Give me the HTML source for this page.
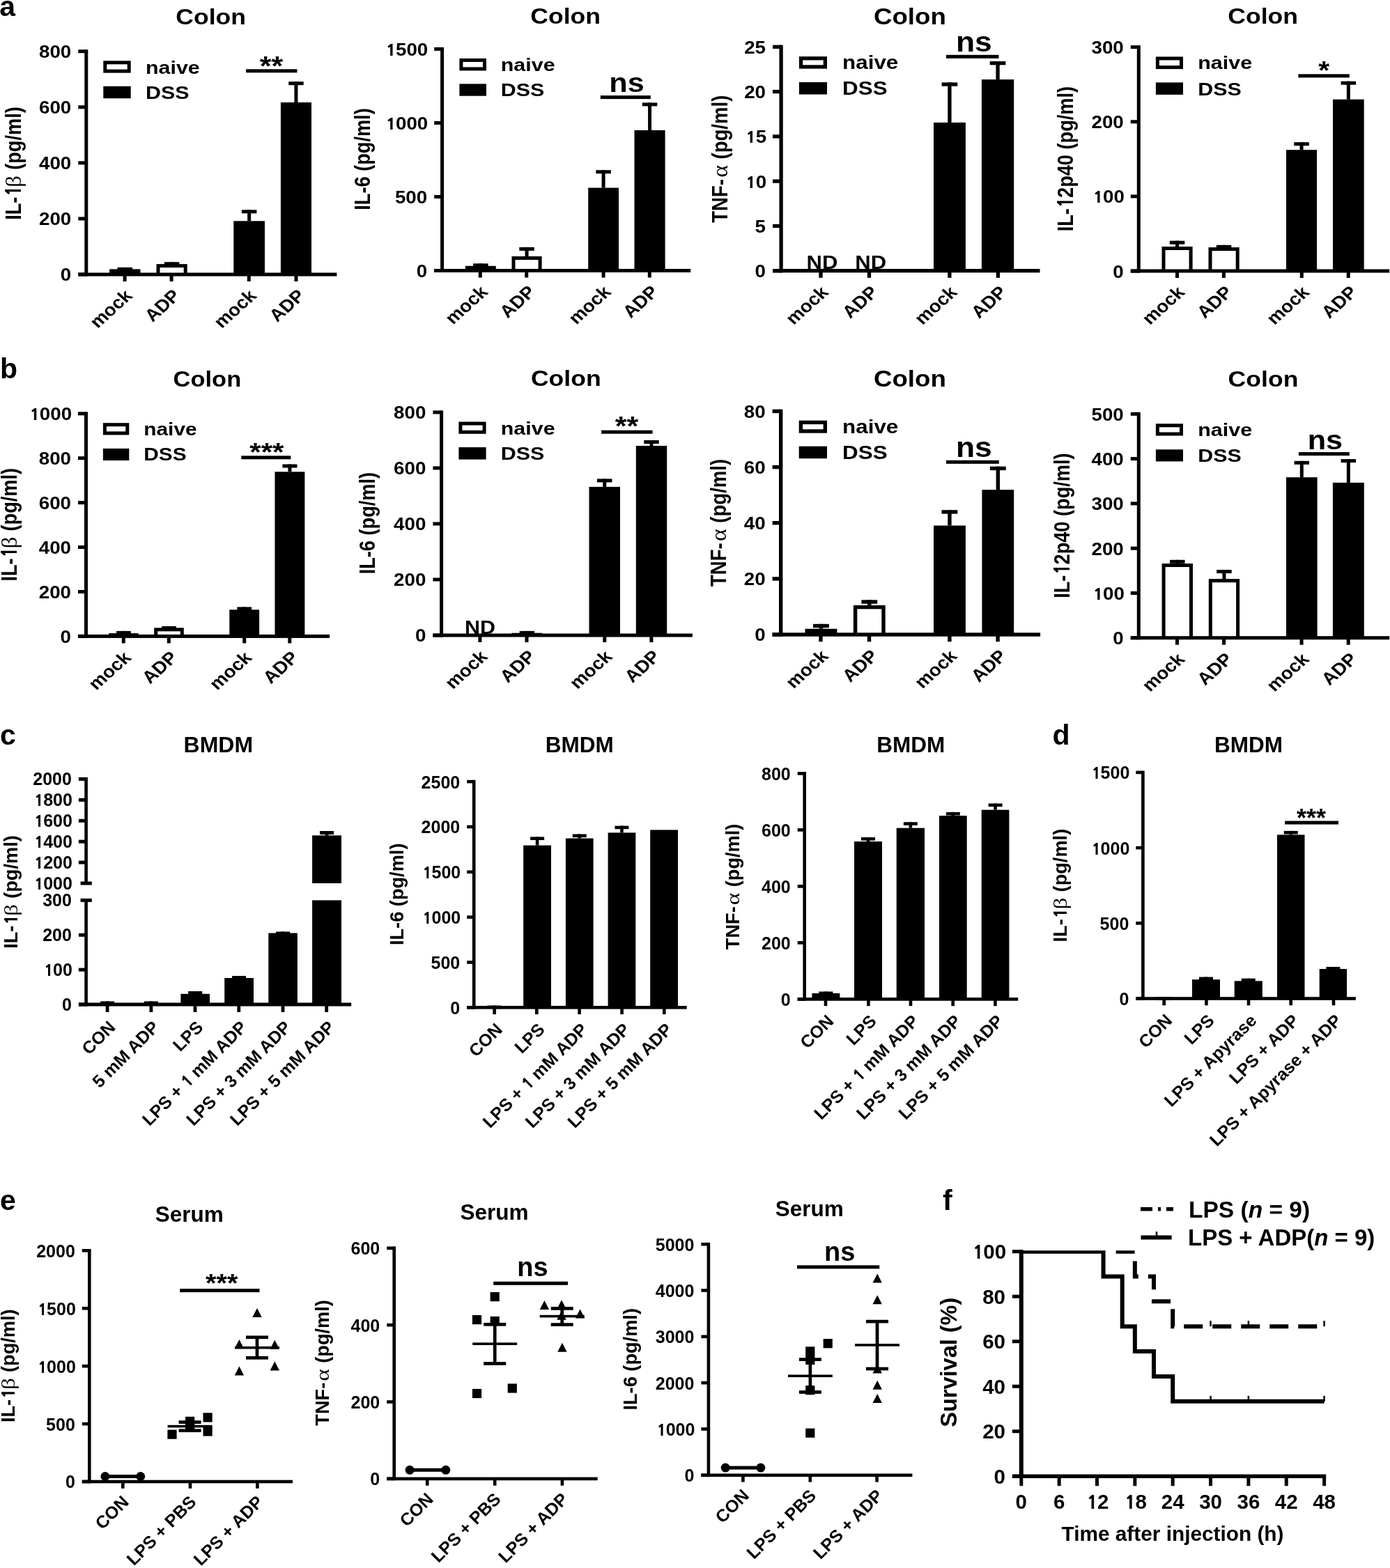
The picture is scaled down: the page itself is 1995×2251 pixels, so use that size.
<!DOCTYPE html>
<html lang="en">
<head>
<meta charset="utf-8">
<title>ADP exacerbates inflammatory cytokine production - figure</title>
<style>
html,body{margin:0;padding:0;background:#fff;}
body{width:1995px;height:2251px;overflow:hidden;}
svg{display:block;}
svg text{font-family:"Liberation Sans",Arial,Helvetica,sans-serif;font-weight:bold;fill:#000;}
svg .o{font-family:"NanumGothic","Liberation Sans",sans-serif;font-weight:800;font-size:90%;letter-spacing:-.032em;}
</style>
</head>
<body>
<svg xmlns="http://www.w3.org/2000/svg" width="1995" height="2251" viewBox="0 0 1995 2251">
<rect x="0" y="0" width="1995" height="2251" fill="#fff"/>
<!-- panel letters -->
<text transform="translate(-0.7 23)" font-size="41">a</text>
<text transform="translate(0 542.8)" font-size="41">b</text>
<text transform="translate(0 1069.3)" font-size="41">c</text>
<text transform="translate(1510.5 1068.8)" font-size="41">d</text>
<text transform="translate(0 1737.3)" font-size="41">e</text>
<text transform="translate(1353 1736.9)" font-size="41">f</text>
<!-- a1 IL-1b colon -->
<g>
<text transform="translate(302.6 34.5) scale(1.13 1)" font-size="31.5" text-anchor="middle">Colon</text>
<text transform="translate(29.8 315.87) scale(1.16 1) rotate(-90)" font-size="27.2">IL-<tspan class="o" dx="0.044em">1</tspan></text>
<text transform="translate(29.8 153.19) scale(1.16 1) rotate(-90)" font-size="27.2" text-anchor="end">(pg/ml)</text>
<text transform="translate(29.8 268.88) scale(1.09 1.19) rotate(-90)" font-size="28" font-weight="normal" style="font-family:'Liberation Serif','DejaVu Serif',serif;font-weight:normal">β</text>
<rect x="121.3" y="71.2" width="5" height="325.3"/>
<rect x="112.3" y="391.5" width="371.1" height="5"/>
<rect x="112.3" y="71.2" width="11.5" height="5"/>
<text transform="translate(102.3 83.12) scale(1.11 1)" font-size="25" text-anchor="end">800</text>
<rect x="112.3" y="151.28" width="11.5" height="5"/>
<text transform="translate(102.3 163.2) scale(1.11 1)" font-size="25" text-anchor="end">600</text>
<rect x="112.3" y="231.35" width="11.5" height="5"/>
<text transform="translate(102.3 243.28) scale(1.11 1)" font-size="25" text-anchor="end">400</text>
<rect x="112.3" y="311.43" width="11.5" height="5"/>
<text transform="translate(102.3 323.35) scale(1.11 1)" font-size="25" text-anchor="end">200</text>
<rect x="112.3" y="391.5" width="11.5" height="5"/>
<text transform="translate(102.3 403.43) scale(1.11 1)" font-size="25" text-anchor="end">0</text>
<rect x="176.6" y="394" width="5" height="10"/>
<rect x="243.6" y="394" width="5" height="10"/>
<rect x="354.8" y="394" width="5" height="10"/>
<rect x="422.5" y="394" width="5" height="10"/>
<rect x="168.55" y="383.9" width="21.5" height="5"/>
<rect x="176.8" y="383.9" width="5" height="5"/>
<rect x="157.1" y="386.4" width="44.4" height="7.6"/>
<rect x="235.85" y="376.2" width="21.5" height="5"/>
<rect x="244.1" y="376.2" width="5" height="5"/>
<rect x="224.5" y="379.1" width="44.2" height="14.9"/>
<rect x="229.5" y="384.1" width="34.2" height="7.4" fill="#fff"/>
<rect x="346.9" y="301.3" width="21.5" height="5"/>
<rect x="355.15" y="301.3" width="5" height="16"/>
<rect x="335.3" y="317.3" width="44.7" height="76.7"/>
<rect x="414.2" y="117.2" width="21.5" height="5"/>
<rect x="422.45" y="117.2" width="5" height="29.8"/>
<rect x="402.9" y="147" width="44.1" height="247"/>
<rect x="148.3" y="87.3" width="39.4" height="17.3"/>
<rect x="153.3" y="92.3" width="29.4" height="7.3" fill="#fff"/>
<rect x="148.3" y="123.8" width="39.4" height="17.4"/>
<text transform="translate(209 105.5) scale(1.17 1)" font-size="26">naive</text>
<text transform="translate(209 141.9) scale(1.17 1)" font-size="26">DSS</text>
<rect x="353.1" y="99.3" width="73.3" height="5"/>
<text transform="translate(389.4 108) scale(1.13 1)" font-size="38" text-anchor="middle">**</text>
<text transform="translate(191.4 426.2) scale(1.11 1) rotate(-45)" font-size="25" text-anchor="end">mock</text>
<text transform="translate(260.4 426) scale(1.11 1) rotate(-45)" font-size="25" text-anchor="end">ADP</text>
<text transform="translate(369.6 426.2) scale(1.11 1) rotate(-45)" font-size="25" text-anchor="end">mock</text>
<text transform="translate(439.3 426) scale(1.11 1) rotate(-45)" font-size="25" text-anchor="end">ADP</text>
</g>
<!-- a2 IL-6 colon -->
<g>
<text transform="translate(811.6 33.8) scale(1.13 1)" font-size="31.5" text-anchor="middle">Colon</text>
<text transform="translate(530.6 228.5) scale(1.16 1) rotate(-90)" font-size="27.2" text-anchor="middle">IL-6 (pg/ml)</text>
<rect x="632.1" y="67.9" width="5" height="323.1"/>
<rect x="623.2" y="386" width="368" height="5"/>
<rect x="623.2" y="67.9" width="11.4" height="5"/>
<text transform="translate(613.2 79.83) scale(1.11 1)" font-size="25" text-anchor="end"><tspan class="o" dx="0.044em">1</tspan>500</text>
<rect x="623.2" y="173.93" width="11.4" height="5"/>
<text transform="translate(613.2 185.86) scale(1.11 1)" font-size="25" text-anchor="end"><tspan class="o" dx="0.044em">1</tspan>000</text>
<rect x="623.2" y="279.97" width="11.4" height="5"/>
<text transform="translate(613.2 291.89) scale(1.11 1)" font-size="25" text-anchor="end">500</text>
<rect x="623.2" y="386" width="11.4" height="5"/>
<text transform="translate(613.2 397.93) scale(1.11 1)" font-size="25" text-anchor="end">0</text>
<rect x="686.8" y="388.5" width="5" height="10"/>
<rect x="753.2" y="388.5" width="5" height="10"/>
<rect x="863.6" y="388.5" width="5" height="10"/>
<rect x="929.8" y="388.5" width="5" height="10"/>
<rect x="679.1" y="378.3" width="21.5" height="5"/>
<rect x="687.35" y="378.3" width="5" height="5"/>
<rect x="667.9" y="381.8" width="43.9" height="6.7"/>
<rect x="745.3" y="354.9" width="21.5" height="5"/>
<rect x="753.55" y="354.9" width="5" height="13.1"/>
<rect x="734.5" y="368" width="43.1" height="20.5"/>
<rect x="739.5" y="373" width="33.1" height="13" fill="#fff"/>
<rect x="855.35" y="244.2" width="21.5" height="5"/>
<rect x="863.6" y="244.2" width="5" height="25.4"/>
<rect x="844.2" y="269.6" width="43.8" height="118.9"/>
<rect x="921.8" y="147.4" width="21.5" height="5"/>
<rect x="930.05" y="147.4" width="5" height="39.6"/>
<rect x="910.5" y="187" width="44.1" height="201.5"/>
<rect x="659.4" y="83.9" width="38.6" height="17.5"/>
<rect x="664.4" y="88.9" width="28.6" height="7.5" fill="#fff"/>
<rect x="659.4" y="120.4" width="38.6" height="17.3"/>
<text transform="translate(718.8 101.8) scale(1.17 1)" font-size="26">naive</text>
<text transform="translate(718.8 138) scale(1.17 1)" font-size="26">DSS</text>
<rect x="861.8" y="137.1" width="72" height="5"/>
<text transform="translate(899.5 132.3) scale(1.11 1)" font-size="39" text-anchor="middle">ns</text>
<text transform="translate(701.6 420.7) scale(1.11 1) rotate(-45)" font-size="25" text-anchor="end">mock</text>
<text transform="translate(770 420.5) scale(1.11 1) rotate(-45)" font-size="25" text-anchor="end">ADP</text>
<text transform="translate(878.4 420.7) scale(1.11 1) rotate(-45)" font-size="25" text-anchor="end">mock</text>
<text transform="translate(946.6 420.5) scale(1.11 1) rotate(-45)" font-size="25" text-anchor="end">ADP</text>
</g>
<!-- a3 TNF-a colon -->
<g>
<text transform="translate(1305.9 34.5) scale(1.13 1)" font-size="32.5" text-anchor="middle">Colon</text>
<text transform="translate(1043.9 319.85) scale(1.16 1) rotate(-90)" font-size="27.6">TNF-</text>
<text transform="translate(1043.9 136.62) scale(1.16 1) rotate(-90)" font-size="27.6" text-anchor="end">(pg/ml)</text>
<text transform="translate(1043.9 254.86) scale(1.09 1.19) rotate(-90)" font-size="28.41" font-weight="normal" style="font-family:'Liberation Serif','DejaVu Serif',serif;font-weight:normal">α</text>
<rect x="1118.45" y="64.65" width="5.3" height="326.7"/>
<rect x="1109" y="386.05" width="383.5" height="5.3"/>
<rect x="1109" y="64.65" width="12.1" height="5.3"/>
<text transform="translate(1099 76.72) scale(1.11 1)" font-size="25" text-anchor="end">25</text>
<rect x="1109" y="128.93" width="12.1" height="5.3"/>
<text transform="translate(1099 141) scale(1.11 1)" font-size="25" text-anchor="end">20</text>
<rect x="1109" y="193.21" width="12.1" height="5.3"/>
<text transform="translate(1099 205.28) scale(1.11 1)" font-size="25" text-anchor="end"><tspan class="o" dx="0.044em">1</tspan>5</text>
<rect x="1109" y="257.49" width="12.1" height="5.3"/>
<text transform="translate(1099 269.56) scale(1.11 1)" font-size="25" text-anchor="end"><tspan class="o" dx="0.044em">1</tspan>0</text>
<rect x="1109" y="321.77" width="12.1" height="5.3"/>
<text transform="translate(1099 333.85) scale(1.11 1)" font-size="25" text-anchor="end">5</text>
<rect x="1109" y="386.05" width="12.1" height="5.3"/>
<text transform="translate(1099 398.12) scale(1.11 1)" font-size="25" text-anchor="end">0</text>
<rect x="1175.35" y="388.7" width="5.3" height="10.15"/>
<rect x="1244.85" y="388.7" width="5.3" height="10.15"/>
<rect x="1360.25" y="388.7" width="5.3" height="10.15"/>
<rect x="1429.75" y="388.7" width="5.3" height="10.15"/>
<rect x="1351.65" y="118.4" width="22.6" height="5.3"/>
<rect x="1360.3" y="118.4" width="5.3" height="57.5"/>
<rect x="1340" y="175.9" width="45.9" height="212.8"/>
<rect x="1420.75" y="88" width="22.6" height="5.3"/>
<rect x="1429.4" y="88" width="5.3" height="26.1"/>
<rect x="1408.9" y="114.1" width="46.3" height="274.6"/>
<rect x="1146.9" y="81.1" width="40.1" height="17.5"/>
<rect x="1152.2" y="86.4" width="29.5" height="6.9" fill="#fff"/>
<rect x="1146.9" y="118" width="40.1" height="17.5"/>
<text transform="translate(1209.1 99.1) scale(1.17 1)" font-size="26.8">naive</text>
<text transform="translate(1209.1 135.9) scale(1.17 1)" font-size="26.8">DSS</text>
<rect x="1358" y="78.8" width="75.5" height="5"/>
<text transform="translate(1397.8 73.6) scale(1.11 1)" font-size="40" text-anchor="middle">ns</text>
<text transform="translate(1190.3 421.05) scale(1.11 1) rotate(-45)" font-size="25" text-anchor="end">mock</text>
<text transform="translate(1261.8 420.85) scale(1.11 1) rotate(-45)" font-size="25" text-anchor="end">ADP</text>
<text transform="translate(1375.2 421.05) scale(1.11 1) rotate(-45)" font-size="25" text-anchor="end">mock</text>
<text transform="translate(1446.7 420.85) scale(1.11 1) rotate(-45)" font-size="25" text-anchor="end">ADP</text>
<text transform="translate(1180 385.9) scale(1.15 1)" font-size="27" text-anchor="middle">ND</text>
<text transform="translate(1249.7 385.9) scale(1.15 1)" font-size="27" text-anchor="middle">ND</text>
</g>
<!-- a4 IL-12p40 colon -->
<g>
<text transform="translate(1812.6 34.1) scale(1.13 1)" font-size="31.5" text-anchor="middle">Colon</text>
<text transform="translate(1540 228.1) scale(1.16 1) rotate(-90)" font-size="27.2" text-anchor="middle">IL-<tspan class="o" dx="0.044em">1</tspan>2p40 (pg/ml)</text>
<rect x="1631.8" y="65.1" width="5" height="326.4"/>
<rect x="1622.8" y="386.5" width="371.4" height="5"/>
<rect x="1622.8" y="65.1" width="11.5" height="5"/>
<text transform="translate(1612.8 77.02) scale(1.11 1)" font-size="25" text-anchor="end">300</text>
<rect x="1622.8" y="172.27" width="11.5" height="5"/>
<text transform="translate(1612.8 184.19) scale(1.11 1)" font-size="25" text-anchor="end">200</text>
<rect x="1622.8" y="279.43" width="11.5" height="5"/>
<text transform="translate(1612.8 291.36) scale(1.11 1)" font-size="25" text-anchor="end"><tspan class="o" dx="0.044em">1</tspan>00</text>
<rect x="1622.8" y="386.6" width="11.5" height="5"/>
<text transform="translate(1612.8 398.53) scale(1.11 1)" font-size="25" text-anchor="end">0</text>
<rect x="1687" y="389" width="5" height="10"/>
<rect x="1753.9" y="389" width="5" height="10"/>
<rect x="1865.8" y="389" width="5" height="10"/>
<rect x="1932.7" y="389" width="5" height="10"/>
<rect x="1678.8" y="345.7" width="21.5" height="5"/>
<rect x="1687.05" y="345.7" width="5" height="8.3"/>
<rect x="1667.5" y="354" width="44.1" height="35"/>
<rect x="1672.5" y="359" width="34.1" height="27.5" fill="#fff"/>
<rect x="1745.85" y="351.8" width="21.5" height="5"/>
<rect x="1754.1" y="351.8" width="5" height="5"/>
<rect x="1734.5" y="355.1" width="44.2" height="33.9"/>
<rect x="1739.5" y="360.1" width="34.2" height="26.4" fill="#fff"/>
<rect x="1857.3" y="204.2" width="21.5" height="5"/>
<rect x="1865.55" y="204.2" width="5" height="11"/>
<rect x="1846" y="215.2" width="44.1" height="173.8"/>
<rect x="1924.6" y="116.7" width="21.5" height="5"/>
<rect x="1932.85" y="116.7" width="5" height="26"/>
<rect x="1913" y="142.7" width="44.7" height="246.3"/>
<rect x="1658.9" y="81.4" width="39.1" height="17.7"/>
<rect x="1663.9" y="86.4" width="29.1" height="7.7" fill="#fff"/>
<rect x="1658.9" y="118.4" width="39.1" height="17.5"/>
<text transform="translate(1719.3 99.3) scale(1.17 1)" font-size="26">naive</text>
<text transform="translate(1719.3 136.6) scale(1.17 1)" font-size="26">DSS</text>
<rect x="1863.4" y="106.4" width="73.4" height="5"/>
<text transform="translate(1900.1 114.1) scale(1.1 1)" font-size="37" text-anchor="middle">*</text>
<text transform="translate(1701.8 421.2) scale(1.11 1) rotate(-45)" font-size="25" text-anchor="end">mock</text>
<text transform="translate(1770.7 421) scale(1.11 1) rotate(-45)" font-size="25" text-anchor="end">ADP</text>
<text transform="translate(1880.6 421.2) scale(1.11 1) rotate(-45)" font-size="25" text-anchor="end">mock</text>
<text transform="translate(1949.5 421) scale(1.11 1) rotate(-45)" font-size="25" text-anchor="end">ADP</text>
</g>
<!-- b1 IL-1b colon -->
<g>
<text transform="translate(297.4 554.5) scale(1.13 1)" font-size="30.5" text-anchor="middle">Colon</text>
<text transform="translate(24.1 834.57) scale(1.16 1) rotate(-90)" font-size="27.2">IL-<tspan class="o" dx="0.044em">1</tspan></text>
<text transform="translate(24.1 671.89) scale(1.16 1) rotate(-90)" font-size="27.2" text-anchor="end">(pg/ml)</text>
<text transform="translate(24.1 787.58) scale(1.09 1.19) rotate(-90)" font-size="28" font-weight="normal" style="font-family:'Liberation Serif','DejaVu Serif',serif;font-weight:normal">β</text>
<rect x="121" y="591.3" width="5" height="324.6"/>
<rect x="112" y="910.9" width="361.1" height="5"/>
<rect x="112" y="591.3" width="11.5" height="5"/>
<text transform="translate(102 603.23) scale(1.11 1)" font-size="25" text-anchor="end"><tspan class="o" dx="0.044em">1</tspan>000</text>
<rect x="112" y="655.22" width="11.5" height="5"/>
<text transform="translate(102 667.14) scale(1.11 1)" font-size="25" text-anchor="end">800</text>
<rect x="112" y="719.14" width="11.5" height="5"/>
<text transform="translate(102 731.07) scale(1.11 1)" font-size="25" text-anchor="end">600</text>
<rect x="112" y="783.06" width="11.5" height="5"/>
<text transform="translate(102 794.99) scale(1.11 1)" font-size="25" text-anchor="end">400</text>
<rect x="112" y="846.98" width="11.5" height="5"/>
<text transform="translate(102 858.91) scale(1.11 1)" font-size="25" text-anchor="end">200</text>
<rect x="112" y="910.9" width="11.5" height="5"/>
<text transform="translate(102 922.83) scale(1.11 1)" font-size="25" text-anchor="end">0</text>
<rect x="174.8" y="913.4" width="5" height="10"/>
<rect x="239.8" y="913.4" width="5" height="10"/>
<rect x="348.2" y="913.4" width="5" height="10"/>
<rect x="413.3" y="913.4" width="5" height="10"/>
<rect x="167.1" y="905.9" width="20.7" height="5"/>
<rect x="174.95" y="905.9" width="5" height="5"/>
<rect x="156.2" y="909.1" width="42.5" height="4.3"/>
<rect x="232.15" y="899" width="20.7" height="5"/>
<rect x="240" y="899" width="5" height="5"/>
<rect x="221.2" y="901.3" width="42.6" height="12.1"/>
<rect x="226.2" y="906.3" width="32.6" height="4.6" fill="#fff"/>
<rect x="340.35" y="871.4" width="20.7" height="5"/>
<rect x="348.2" y="871.4" width="5" height="5"/>
<rect x="329.3" y="875.3" width="42.8" height="38.1"/>
<rect x="405.45" y="666.5" width="21" height="5"/>
<rect x="413.45" y="666.5" width="5" height="10.8"/>
<rect x="394.5" y="677.3" width="42.9" height="236.1"/>
<rect x="147.9" y="607.2" width="37.4" height="17.2"/>
<rect x="152.9" y="612.2" width="27.4" height="7.2" fill="#fff"/>
<rect x="147.9" y="643.9" width="37.4" height="17.1"/>
<text transform="translate(206.3 624.9) scale(1.17 1)" font-size="25.5">naive</text>
<text transform="translate(206.3 661.4) scale(1.17 1)" font-size="25.5">DSS</text>
<rect x="346.3" y="654.3" width="71.1" height="5"/>
<text transform="translate(382.8 662.1) scale(1.135 1)" font-size="37" text-anchor="middle">***</text>
<text transform="translate(189.6 945.6) scale(1.11 1) rotate(-45)" font-size="25" text-anchor="end">mock</text>
<text transform="translate(256.6 945.4) scale(1.11 1) rotate(-45)" font-size="25" text-anchor="end">ADP</text>
<text transform="translate(363 945.6) scale(1.11 1) rotate(-45)" font-size="25" text-anchor="end">mock</text>
<text transform="translate(430.1 945.4) scale(1.11 1) rotate(-45)" font-size="25" text-anchor="end">ADP</text>
</g>
<!-- b2 IL-6 colon -->
<g>
<text transform="translate(812.3 554.1) scale(1.13 1)" font-size="31.5" text-anchor="middle">Colon</text>
<text transform="translate(537.5 751.1) scale(1.16 1) rotate(-90)" font-size="27.2" text-anchor="middle">IL-6 (pg/ml)</text>
<rect x="631.1" y="589.4" width="5" height="325.1"/>
<rect x="621.4" y="909.5" width="372.5" height="5"/>
<rect x="621.4" y="589.4" width="12.2" height="5"/>
<text transform="translate(611.4 601.33) scale(1.11 1)" font-size="25" text-anchor="end">800</text>
<rect x="621.4" y="669.42" width="12.2" height="5"/>
<text transform="translate(611.4 681.35) scale(1.11 1)" font-size="25" text-anchor="end">600</text>
<rect x="621.4" y="749.45" width="12.2" height="5"/>
<text transform="translate(611.4 761.38) scale(1.11 1)" font-size="25" text-anchor="end">400</text>
<rect x="621.4" y="829.48" width="12.2" height="5"/>
<text transform="translate(611.4 841.4) scale(1.11 1)" font-size="25" text-anchor="end">200</text>
<rect x="621.4" y="909.5" width="12.2" height="5"/>
<text transform="translate(611.4 921.43) scale(1.11 1)" font-size="25" text-anchor="end">0</text>
<rect x="686.4" y="912" width="5" height="10"/>
<rect x="753.5" y="912" width="5" height="10"/>
<rect x="865.3" y="912" width="5" height="10"/>
<rect x="932.4" y="912" width="5" height="10"/>
<rect x="745.65" y="905.9" width="21.5" height="5"/>
<rect x="753.9" y="905.9" width="5" height="5"/>
<rect x="734.5" y="908.7" width="43.8" height="3.3"/>
<rect x="857" y="687.4" width="21.5" height="5"/>
<rect x="865.25" y="687.4" width="5" height="11.5"/>
<rect x="845.5" y="698.9" width="44.5" height="213.1"/>
<rect x="924.25" y="632" width="21.5" height="5"/>
<rect x="932.5" y="632" width="5" height="8"/>
<rect x="912.8" y="640" width="44.4" height="272"/>
<rect x="658.4" y="605.5" width="39.2" height="17.3"/>
<rect x="663.4" y="610.5" width="29.2" height="7.3" fill="#fff"/>
<rect x="658.4" y="642.1" width="39.2" height="17.5"/>
<text transform="translate(718.8 623.5) scale(1.17 1)" font-size="26">naive</text>
<text transform="translate(718.8 660) scale(1.17 1)" font-size="26">DSS</text>
<rect x="863.1" y="617.7" width="73.4" height="5"/>
<text transform="translate(899.5 625.2) scale(1.13 1)" font-size="38" text-anchor="middle">**</text>
<text transform="translate(701.2 944.2) scale(1.11 1) rotate(-45)" font-size="25" text-anchor="end">mock</text>
<text transform="translate(770.3 944) scale(1.11 1) rotate(-45)" font-size="25" text-anchor="end">ADP</text>
<text transform="translate(880.1 944.2) scale(1.11 1) rotate(-45)" font-size="25" text-anchor="end">mock</text>
<text transform="translate(949.2 944) scale(1.11 1) rotate(-45)" font-size="25" text-anchor="end">ADP</text>
<text transform="translate(689 909.6) scale(1.13 1)" font-size="27" text-anchor="middle">ND</text>
</g>
<!-- b3 TNF-a colon -->
<g>
<text transform="translate(1305.9 554.8) scale(1.13 1)" font-size="32.5" text-anchor="middle">Colon</text>
<text transform="translate(1042.1 842.05) scale(1.16 1) rotate(-90)" font-size="27.6">TNF-</text>
<text transform="translate(1042.1 658.82) scale(1.16 1) rotate(-90)" font-size="27.6" text-anchor="end">(pg/ml)</text>
<text transform="translate(1042.1 777.06) scale(1.09 1.19) rotate(-90)" font-size="28.41" font-weight="normal" style="font-family:'Liberation Serif','DejaVu Serif',serif;font-weight:normal">α</text>
<rect x="1118" y="587.7" width="5.4" height="326"/>
<rect x="1108.6" y="908.3" width="384.5" height="5.4"/>
<rect x="1108.6" y="587.7" width="12.1" height="5.4"/>
<text transform="translate(1098.6 599.83) scale(1.11 1)" font-size="25" text-anchor="end">80</text>
<rect x="1108.6" y="667.85" width="12.1" height="5.4"/>
<text transform="translate(1098.6 679.98) scale(1.11 1)" font-size="25" text-anchor="end">60</text>
<rect x="1108.6" y="748" width="12.1" height="5.4"/>
<text transform="translate(1098.6 760.13) scale(1.11 1)" font-size="25" text-anchor="end">40</text>
<rect x="1108.6" y="828.15" width="12.1" height="5.4"/>
<text transform="translate(1098.6 840.28) scale(1.11 1)" font-size="25" text-anchor="end">20</text>
<rect x="1108.6" y="908.3" width="12.1" height="5.4"/>
<text transform="translate(1098.6 920.43) scale(1.11 1)" font-size="25" text-anchor="end">0</text>
<rect x="1175.3" y="911" width="5.4" height="10.2"/>
<rect x="1244.8" y="911" width="5.4" height="10.2"/>
<rect x="1360.2" y="911" width="5.4" height="10.2"/>
<rect x="1429.4" y="911" width="5.4" height="10.2"/>
<rect x="1167.05" y="895.8" width="22.8" height="5.4"/>
<rect x="1175.75" y="895.8" width="5.4" height="6.9"/>
<rect x="1155.5" y="902.7" width="45.9" height="8.3"/>
<rect x="1236.4" y="861.3" width="22.8" height="5.4"/>
<rect x="1245.1" y="861.3" width="5.4" height="7.6"/>
<rect x="1224.9" y="868.9" width="45.8" height="42.1"/>
<rect x="1230.3" y="874.3" width="35" height="34" fill="#fff"/>
<rect x="1351.55" y="732.2" width="22.8" height="5.4"/>
<rect x="1360.25" y="732.2" width="5.4" height="22.3"/>
<rect x="1340" y="754.5" width="45.9" height="156.5"/>
<rect x="1420.9" y="669.7" width="22.8" height="5.4"/>
<rect x="1429.6" y="669.7" width="5.4" height="33.4"/>
<rect x="1409.4" y="703.1" width="45.8" height="207.9"/>
<rect x="1146.7" y="603.7" width="40.3" height="18"/>
<rect x="1152.1" y="609.1" width="29.5" height="7.2" fill="#fff"/>
<rect x="1146.7" y="640.7" width="40.3" height="17.5"/>
<text transform="translate(1209.1 622.1) scale(1.17 1)" font-size="26.8">naive</text>
<text transform="translate(1209.1 658.7) scale(1.17 1)" font-size="26.8">DSS</text>
<rect x="1358" y="660.8" width="75.8" height="5"/>
<text transform="translate(1397.8 656.4) scale(1.11 1)" font-size="40" text-anchor="middle">ns</text>
<text transform="translate(1190.3 943.4) scale(1.11 1) rotate(-45)" font-size="25" text-anchor="end">mock</text>
<text transform="translate(1261.8 943.2) scale(1.11 1) rotate(-45)" font-size="25" text-anchor="end">ADP</text>
<text transform="translate(1375.2 943.4) scale(1.11 1) rotate(-45)" font-size="25" text-anchor="end">mock</text>
<text transform="translate(1446.4 943.2) scale(1.11 1) rotate(-45)" font-size="25" text-anchor="end">ADP</text>
</g>
<!-- b4 IL-12p40 colon -->
<g>
<text transform="translate(1813 555.2) scale(1.13 1)" font-size="31.5" text-anchor="middle">Colon</text>
<text transform="translate(1535.2 754.6) scale(1.16 1) rotate(-90)" font-size="27.2" text-anchor="middle">IL-<tspan class="o" dx="0.044em">1</tspan>2p40 (pg/ml)</text>
<rect x="1631.8" y="591.8" width="5" height="326.4"/>
<rect x="1622.8" y="913.2" width="371.4" height="5"/>
<rect x="1622.8" y="591.8" width="11.5" height="5"/>
<text transform="translate(1612.8 603.73) scale(1.11 1)" font-size="25" text-anchor="end">500</text>
<rect x="1622.8" y="656.08" width="11.5" height="5"/>
<text transform="translate(1612.8 668) scale(1.11 1)" font-size="25" text-anchor="end">400</text>
<rect x="1622.8" y="720.36" width="11.5" height="5"/>
<text transform="translate(1612.8 732.29) scale(1.11 1)" font-size="25" text-anchor="end">300</text>
<rect x="1622.8" y="784.64" width="11.5" height="5"/>
<text transform="translate(1612.8 796.57) scale(1.11 1)" font-size="25" text-anchor="end">200</text>
<rect x="1622.8" y="848.92" width="11.5" height="5"/>
<text transform="translate(1612.8 860.85) scale(1.11 1)" font-size="25" text-anchor="end"><tspan class="o" dx="0.044em">1</tspan>00</text>
<rect x="1622.8" y="913.2" width="11.5" height="5"/>
<text transform="translate(1612.8 925.13) scale(1.11 1)" font-size="25" text-anchor="end">0</text>
<rect x="1687" y="915.7" width="5" height="10"/>
<rect x="1754.1" y="915.7" width="5" height="10"/>
<rect x="1865.6" y="915.7" width="5" height="10"/>
<rect x="1932.7" y="915.7" width="5" height="10"/>
<rect x="1679.05" y="803.8" width="21.5" height="5"/>
<rect x="1687.3" y="803.8" width="5" height="5.2"/>
<rect x="1667.6" y="809" width="44.4" height="106.7"/>
<rect x="1672.6" y="814" width="34.4" height="99.2" fill="#fff"/>
<rect x="1746.2" y="818" width="21.5" height="5"/>
<rect x="1754.45" y="818" width="5" height="13.1"/>
<rect x="1734.8" y="831.1" width="44.3" height="84.6"/>
<rect x="1739.8" y="836.1" width="34.3" height="77.1" fill="#fff"/>
<rect x="1857.55" y="661.8" width="21.5" height="5"/>
<rect x="1865.8" y="661.8" width="5" height="23.4"/>
<rect x="1846" y="685.2" width="44.6" height="230.5"/>
<rect x="1924.6" y="659.1" width="21.5" height="5"/>
<rect x="1932.85" y="659.1" width="5" height="33.8"/>
<rect x="1912.9" y="692.9" width="44.9" height="222.8"/>
<rect x="1658.9" y="608.3" width="39.1" height="17.2"/>
<rect x="1663.9" y="613.3" width="29.1" height="7.2" fill="#fff"/>
<rect x="1658.9" y="645.3" width="39.1" height="17.1"/>
<text transform="translate(1719.3 626.2) scale(1.17 1)" font-size="26">naive</text>
<text transform="translate(1719.3 663.1) scale(1.17 1)" font-size="26">DSS</text>
<rect x="1863.9" y="649.1" width="72.9" height="5"/>
<text transform="translate(1901.9 644.7) scale(1.11 1)" font-size="39" text-anchor="middle">ns</text>
<text transform="translate(1701.8 947.9) scale(1.11 1) rotate(-45)" font-size="25" text-anchor="end">mock</text>
<text transform="translate(1770.9 947.7) scale(1.11 1) rotate(-45)" font-size="25" text-anchor="end">ADP</text>
<text transform="translate(1880.4 947.9) scale(1.11 1) rotate(-45)" font-size="25" text-anchor="end">mock</text>
<text transform="translate(1949.5 947.7) scale(1.11 1) rotate(-45)" font-size="25" text-anchor="end">ADP</text>
</g>
<!-- c1 IL-1b BMDM (broken axis) -->
<g>
<text transform="translate(313.3 1080)" font-size="32" text-anchor="middle">BMDM</text>
<text transform="translate(24.8 1361.87) rotate(-90)" font-size="27.2">IL-<tspan class="o" dx="0.044em">1</tspan></text>
<text transform="translate(24.8 1199.19) rotate(-90)" font-size="27.2" text-anchor="end">(pg/ml)</text>
<text transform="translate(24.8 1314.88) scale(0.94 1.19) rotate(-90)" font-size="28" font-weight="normal" style="font-family:'Liberation Serif','DejaVu Serif',serif;font-weight:normal">β</text>
<rect x="121.3" y="1115.9" width="4.6" height="152.1"/>
<rect x="112.9" y="1115.9" width="10.7" height="5"/>
<text transform="translate(102.9 1127.12)" font-size="25" text-anchor="end">2000</text>
<rect x="112.9" y="1145.82" width="10.7" height="5"/>
<text transform="translate(102.9 1157.05)" font-size="25" text-anchor="end"><tspan class="o" dx="0.044em">1</tspan>800</text>
<rect x="112.9" y="1175.74" width="10.7" height="5"/>
<text transform="translate(102.9 1186.96)" font-size="25" text-anchor="end"><tspan class="o" dx="0.044em">1</tspan>600</text>
<rect x="112.9" y="1205.66" width="10.7" height="5"/>
<text transform="translate(102.9 1216.88)" font-size="25" text-anchor="end"><tspan class="o" dx="0.044em">1</tspan>400</text>
<rect x="112.9" y="1235.58" width="10.7" height="5"/>
<text transform="translate(102.9 1246.8)" font-size="25" text-anchor="end"><tspan class="o" dx="0.044em">1</tspan>200</text>
<text transform="translate(102.9 1276.72)" font-size="25" text-anchor="end"><tspan class="o" dx="0.044em">1</tspan>000</text>
<rect x="115.6" y="1265.5" width="16.2" height="5"/>
<rect x="121.3" y="1292.4" width="4.6" height="152.1"/>
<rect x="115.6" y="1289.9" width="16.2" height="5"/>
<text transform="translate(102.9 1301.12)" font-size="25" text-anchor="end">300</text>
<rect x="112.9" y="1339.77" width="10.7" height="5"/>
<text transform="translate(102.9 1350.99)" font-size="25" text-anchor="end">200</text>
<rect x="112.9" y="1389.63" width="10.7" height="5"/>
<text transform="translate(102.9 1400.86)" font-size="25" text-anchor="end"><tspan class="o" dx="0.044em">1</tspan>00</text>
<rect x="112.9" y="1439.5" width="10.7" height="5"/>
<text transform="translate(102.9 1450.72)" font-size="25" text-anchor="end">0</text>
<rect x="112.9" y="1439.5" width="391.3" height="5"/>
<rect x="151.7" y="1442" width="4.8" height="11"/>
<rect x="214.5" y="1442" width="4.8" height="11"/>
<rect x="277.6" y="1442" width="4.8" height="11"/>
<rect x="340.4" y="1442" width="4.8" height="11"/>
<rect x="403.6" y="1442" width="4.8" height="11"/>
<rect x="466.3" y="1442" width="4.8" height="11"/>
<rect x="144.1" y="1437.5" width="20" height="5"/>
<rect x="151.6" y="1437.5" width="5" height="5"/>
<rect x="133.3" y="1440" width="41.6" height="2"/>
<rect x="206.9" y="1437.5" width="20" height="5"/>
<rect x="214.4" y="1437.5" width="5" height="5"/>
<rect x="196.1" y="1440" width="41.6" height="2"/>
<rect x="270.2" y="1423" width="20" height="5"/>
<rect x="277.7" y="1423" width="5" height="5"/>
<rect x="259.4" y="1426.8" width="41.6" height="15.2"/>
<rect x="333.1" y="1401" width="20" height="5"/>
<rect x="340.6" y="1401" width="5" height="5"/>
<rect x="322.2" y="1404" width="41.8" height="38"/>
<rect x="396.1" y="1337.5" width="20" height="5"/>
<rect x="403.6" y="1337.5" width="5" height="5"/>
<rect x="385.3" y="1339.5" width="41.6" height="102.5"/>
<rect x="448.1" y="1292.4" width="41.9" height="149.6"/>
<rect x="459.05" y="1193" width="20" height="5"/>
<rect x="466.55" y="1193" width="5" height="6.3"/>
<rect x="448.1" y="1199.3" width="41.9" height="68.7"/>
<text transform="translate(167.1 1476.3) rotate(-45)" font-size="25" text-anchor="end">CON</text>
<text transform="translate(229.9 1476.3) rotate(-45)" font-size="25" text-anchor="end">5 mM ADP</text>
<text transform="translate(293 1476.3) rotate(-45)" font-size="25" text-anchor="end">LPS</text>
<text transform="translate(355.8 1476.3) rotate(-45)" font-size="25" text-anchor="end">LPS + <tspan class="o" dx="0.044em">1</tspan> mM ADP</text>
<text transform="translate(419 1476.3) rotate(-45)" font-size="25" text-anchor="end">LPS + 3 mM ADP</text>
<text transform="translate(481.7 1476.3) rotate(-45)" font-size="25" text-anchor="end">LPS + 5 mM ADP</text>
</g>
<!-- c2 IL-6 BMDM -->
<g>
<text transform="translate(831.7 1080)" font-size="31.5" text-anchor="middle">BMDM</text>
<text transform="translate(579.2 1283.8) rotate(-90)" font-size="27.2" text-anchor="middle">IL-6 (pg/ml)</text>
<rect x="677.9" y="1119.8" width="4.6" height="328.8"/>
<rect x="670.2" y="1444" width="315.5" height="4.6"/>
<rect x="670.2" y="1119.8" width="10" height="4.6"/>
<text transform="translate(660.2 1131.52)" font-size="25" text-anchor="end">2500</text>
<rect x="670.2" y="1184.64" width="10" height="4.6"/>
<text transform="translate(660.2 1196.36)" font-size="25" text-anchor="end">2000</text>
<rect x="670.2" y="1249.48" width="10" height="4.6"/>
<text transform="translate(660.2 1261.2)" font-size="25" text-anchor="end"><tspan class="o" dx="0.044em">1</tspan>500</text>
<rect x="670.2" y="1314.32" width="10" height="4.6"/>
<text transform="translate(660.2 1326.04)" font-size="25" text-anchor="end"><tspan class="o" dx="0.044em">1</tspan>000</text>
<rect x="670.2" y="1379.16" width="10" height="4.6"/>
<text transform="translate(660.2 1390.88)" font-size="25" text-anchor="end">500</text>
<rect x="670.2" y="1444" width="10" height="4.6"/>
<text transform="translate(660.2 1455.72)" font-size="25" text-anchor="end">0</text>
<rect x="707.3" y="1446.3" width="4.6" height="9.8"/>
<rect x="768" y="1446.3" width="4.6" height="9.8"/>
<rect x="829.3" y="1446.3" width="4.6" height="9.8"/>
<rect x="890.3" y="1446.3" width="4.6" height="9.8"/>
<rect x="951" y="1446.3" width="4.6" height="9.8"/>
<rect x="699.6" y="1443.5" width="20" height="4.6"/>
<rect x="707.3" y="1443.5" width="4.6" height="4.6"/>
<rect x="689.6" y="1445" width="40" height="1.3"/>
<rect x="761.1" y="1201.4" width="20" height="4.6"/>
<rect x="768.8" y="1201.4" width="4.6" height="12.2"/>
<rect x="751.2" y="1213.6" width="39.8" height="232.7"/>
<rect x="821.75" y="1197.5" width="20" height="4.6"/>
<rect x="829.45" y="1197.5" width="4.6" height="6"/>
<rect x="811.9" y="1203.5" width="39.7" height="242.8"/>
<rect x="882.45" y="1185.6" width="20" height="4.6"/>
<rect x="890.15" y="1185.6" width="4.6" height="9.8"/>
<rect x="872.6" y="1195.4" width="39.7" height="250.9"/>
<rect x="933.2" y="1191.4" width="39.8" height="254.9"/>
<text transform="translate(722.6 1479.4) rotate(-45)" font-size="25" text-anchor="end">CON</text>
<text transform="translate(783.3 1479.4) rotate(-45)" font-size="25" text-anchor="end">LPS</text>
<text transform="translate(844.6 1479.4) rotate(-45)" font-size="25" text-anchor="end">LPS + <tspan class="o" dx="0.044em">1</tspan> mM ADP</text>
<text transform="translate(905.6 1479.4) rotate(-45)" font-size="25" text-anchor="end">LPS + 3 mM ADP</text>
<text transform="translate(966.3 1479.4) rotate(-45)" font-size="25" text-anchor="end">LPS + 5 mM ADP</text>
</g>
<!-- c3 TNF-a BMDM -->
<g>
<text transform="translate(1307.2 1080)" font-size="31.5" text-anchor="middle">BMDM</text>
<text transform="translate(1060.7 1363.22) rotate(-90)" font-size="27.2">TNF-</text>
<text transform="translate(1060.7 1182.64) rotate(-90)" font-size="27.2" text-anchor="end">(pg/ml)</text>
<text transform="translate(1060.7 1299.17) scale(0.94 1.19) rotate(-90)" font-size="28" font-weight="normal" style="font-family:'Liberation Serif','DejaVu Serif',serif;font-weight:normal">α</text>
<rect x="1152.4" y="1108.1" width="4.6" height="328.6"/>
<rect x="1144.7" y="1432.1" width="316.5" height="4.6"/>
<rect x="1144.7" y="1108.1" width="10" height="4.6"/>
<text transform="translate(1134.7 1119.83)" font-size="25" text-anchor="end">800</text>
<rect x="1144.7" y="1189.1" width="10" height="4.6"/>
<text transform="translate(1134.7 1200.83)" font-size="25" text-anchor="end">600</text>
<rect x="1144.7" y="1270.1" width="10" height="4.6"/>
<text transform="translate(1134.7 1281.83)" font-size="25" text-anchor="end">400</text>
<rect x="1144.7" y="1351.1" width="10" height="4.6"/>
<text transform="translate(1134.7 1362.83)" font-size="25" text-anchor="end">200</text>
<rect x="1144.7" y="1432.1" width="10" height="4.6"/>
<text transform="translate(1134.7 1443.83)" font-size="25" text-anchor="end">0</text>
<rect x="1182.7" y="1434.4" width="4.6" height="9.8"/>
<rect x="1244.1" y="1434.4" width="4.6" height="9.8"/>
<rect x="1304.7" y="1434.4" width="4.6" height="9.8"/>
<rect x="1365.4" y="1434.4" width="4.6" height="9.8"/>
<rect x="1426.1" y="1434.4" width="4.6" height="9.8"/>
<rect x="1175.4" y="1423.5" width="20" height="4.6"/>
<rect x="1183.1" y="1423.5" width="4.6" height="4.6"/>
<rect x="1165.4" y="1425.9" width="40" height="8.5"/>
<rect x="1236" y="1202" width="20" height="4.6"/>
<rect x="1243.7" y="1202" width="4.6" height="6"/>
<rect x="1226" y="1208" width="40" height="226.4"/>
<rect x="1296.85" y="1180.2" width="20" height="4.6"/>
<rect x="1304.55" y="1180.2" width="4.6" height="8.5"/>
<rect x="1286.7" y="1188.7" width="40.3" height="245.7"/>
<rect x="1357.85" y="1165.9" width="20" height="4.6"/>
<rect x="1365.55" y="1165.9" width="4.6" height="5.1"/>
<rect x="1348" y="1171" width="39.7" height="263.4"/>
<rect x="1418.55" y="1153.5" width="20" height="4.6"/>
<rect x="1426.25" y="1153.5" width="4.6" height="9.1"/>
<rect x="1408.7" y="1162.6" width="39.7" height="271.8"/>
<text transform="translate(1198 1467.5) rotate(-45)" font-size="25" text-anchor="end">CON</text>
<text transform="translate(1259.4 1467.5) rotate(-45)" font-size="25" text-anchor="end">LPS</text>
<text transform="translate(1320 1467.5) rotate(-45)" font-size="25" text-anchor="end">LPS + <tspan class="o" dx="0.044em">1</tspan> mM ADP</text>
<text transform="translate(1380.7 1467.5) rotate(-45)" font-size="25" text-anchor="end">LPS + 3 mM ADP</text>
<text transform="translate(1441.4 1467.5) rotate(-45)" font-size="25" text-anchor="end">LPS + 5 mM ADP</text>
</g>
<!-- d IL-1b BMDM apyrase -->
<g>
<text transform="translate(1791.9 1080)" font-size="31.5" text-anchor="middle">BMDM</text>
<text transform="translate(1531.1 1352.47) rotate(-90)" font-size="27.2">IL-<tspan class="o" dx="0.044em">1</tspan></text>
<text transform="translate(1531.1 1189.79) rotate(-90)" font-size="27.2" text-anchor="end">(pg/ml)</text>
<text transform="translate(1531.1 1305.48) scale(0.94 1.19) rotate(-90)" font-size="28" font-weight="normal" style="font-family:'Liberation Serif','DejaVu Serif',serif;font-weight:normal">β</text>
<rect x="1638.1" y="1106.6" width="4.6" height="329.2"/>
<rect x="1630.3" y="1431.2" width="315.6" height="4.6"/>
<rect x="1630.3" y="1106.6" width="10.1" height="4.6"/>
<text transform="translate(1620.3 1118.33)" font-size="25" text-anchor="end"><tspan class="o" dx="0.044em">1</tspan>500</text>
<rect x="1630.3" y="1214.8" width="10.1" height="4.6"/>
<text transform="translate(1620.3 1226.53)" font-size="25" text-anchor="end"><tspan class="o" dx="0.044em">1</tspan>000</text>
<rect x="1630.3" y="1323" width="10.1" height="4.6"/>
<text transform="translate(1620.3 1334.72)" font-size="25" text-anchor="end">500</text>
<rect x="1630.3" y="1431.2" width="10.1" height="4.6"/>
<text transform="translate(1620.3 1442.92)" font-size="25" text-anchor="end">0</text>
<rect x="1668.4" y="1433.5" width="4.6" height="9.8"/>
<rect x="1729.1" y="1433.5" width="4.6" height="9.8"/>
<rect x="1789.7" y="1433.5" width="4.6" height="9.8"/>
<rect x="1850.4" y="1433.5" width="4.6" height="9.8"/>
<rect x="1911.7" y="1433.5" width="4.6" height="9.8"/>
<rect x="1660.7" y="1431" width="20" height="4.6"/>
<rect x="1668.4" y="1431" width="4.6" height="4.6"/>
<rect x="1650.7" y="1432.5" width="40" height="1"/>
<rect x="1721" y="1402.6" width="20" height="4.6"/>
<rect x="1728.7" y="1402.6" width="4.6" height="4.6"/>
<rect x="1711" y="1406.2" width="40" height="27.3"/>
<rect x="1781.75" y="1404.7" width="20" height="4.6"/>
<rect x="1789.45" y="1404.7" width="4.6" height="4.6"/>
<rect x="1771.7" y="1408.3" width="40.1" height="25.2"/>
<rect x="1842.75" y="1192.9" width="20" height="4.6"/>
<rect x="1850.45" y="1192.9" width="4.6" height="5.5"/>
<rect x="1833" y="1198.4" width="39.5" height="235.1"/>
<rect x="1903.4" y="1388" width="20" height="4.6"/>
<rect x="1911.1" y="1388" width="4.6" height="4.6"/>
<rect x="1893.7" y="1391" width="39.4" height="42.5"/>
<rect x="1844.2" y="1178.5" width="76.8" height="5"/>
<text transform="translate(1882 1186.5)" font-size="36" text-anchor="middle">***</text>
<text transform="translate(1683.7 1466.6) rotate(-45)" font-size="25" text-anchor="end">CON</text>
<text transform="translate(1744.4 1466.6) rotate(-45)" font-size="25" text-anchor="end">LPS</text>
<text transform="translate(1805 1466.6) rotate(-45)" font-size="25" text-anchor="end">LPS + Apyrase</text>
<text transform="translate(1865.7 1466.6) rotate(-45)" font-size="25" text-anchor="end">LPS + ADP</text>
<text transform="translate(1927 1466.6) rotate(-45)" font-size="25" text-anchor="end">LPS + Apyrase + ADP</text>
</g>
<!-- e1 IL-1b serum -->
<g>
<text transform="translate(271.7 1754.3)" font-size="31.5" text-anchor="middle">Serum</text>
<text transform="translate(20.7 2042.07) rotate(-90)" font-size="27.2">IL-<tspan class="o" dx="0.044em">1</tspan></text>
<text transform="translate(20.7 1879.39) rotate(-90)" font-size="27.2" text-anchor="end">(pg/ml)</text>
<text transform="translate(20.7 1995.08) scale(0.94 1.19) rotate(-90)" font-size="28" font-weight="normal" style="font-family:'Liberation Serif','DejaVu Serif',serif;font-weight:normal">β</text>
<rect x="126" y="1793" width="4.6" height="336.3"/>
<rect x="117.8" y="2124.7" width="302.2" height="4.6"/>
<rect x="117.8" y="1793" width="10.5" height="4.6"/>
<text transform="translate(107.8 1804.72)" font-size="25" text-anchor="end">2000</text>
<rect x="117.8" y="1875.92" width="10.5" height="4.6"/>
<text transform="translate(107.8 1887.65)" font-size="25" text-anchor="end"><tspan class="o" dx="0.044em">1</tspan>500</text>
<rect x="117.8" y="1958.85" width="10.5" height="4.6"/>
<text transform="translate(107.8 1970.58)" font-size="25" text-anchor="end"><tspan class="o" dx="0.044em">1</tspan>000</text>
<rect x="117.8" y="2041.78" width="10.5" height="4.6"/>
<text transform="translate(107.8 2053.5)" font-size="25" text-anchor="end">500</text>
<rect x="117.8" y="2124.7" width="10.5" height="4.6"/>
<text transform="translate(107.8 2136.42)" font-size="25" text-anchor="end">0</text>
<rect x="174" y="2127" width="4.6" height="9.8"/>
<rect x="270.7" y="2127" width="4.6" height="9.8"/>
<rect x="367.1" y="2127" width="4.6" height="9.8"/>
<rect x="258.2" y="1850.1" width="114.3" height="5"/>
<text transform="translate(318.2 1855.4) scale(1.07 1)" font-size="37" text-anchor="middle">***</text>
<text transform="translate(186.3 2157.8) rotate(-45)" font-size="25" text-anchor="end">CON</text>
<text transform="translate(283 2157.8) rotate(-45)" font-size="25" text-anchor="end">LPS + PBS</text>
<text transform="translate(379.4 2157.8) rotate(-45)" font-size="25" text-anchor="end">LPS + ADP</text>
<rect x="150.9" y="2117" width="50.8" height="5"/>
<circle cx="150.9" cy="2119.5" r="6.5"/>
<circle cx="201.7" cy="2119.5" r="6.5"/>
<rect x="240.4" y="2052.6" width="13.2" height="13.2"/>
<rect x="266" y="2033.8" width="13.2" height="13.2"/>
<rect x="291.5" y="2028.3" width="13.2" height="13.2"/>
<rect x="291.5" y="2048.4" width="13.2" height="13.2"/>
<rect x="266" y="2039.4" width="13.2" height="13.2"/>
<rect x="240.6" y="2045.8" width="64" height="3.6"/>
<rect x="270.25" y="2041.6" width="4.7" height="12.1"/>
<rect x="256.6" y="2039.25" width="32" height="4.7"/>
<rect x="256.6" y="2051.35" width="32" height="4.7"/>
<path d="M369 1878L375.7 1891L362.3 1891Z"/>
<path d="M343.4 1923L350.1 1936L336.7 1936Z"/>
<path d="M394.3 1923.7L401 1936.7L387.6 1936.7Z"/>
<path d="M343.4 1961.6L350.1 1974.6L336.7 1974.6Z"/>
<path d="M394.3 1954.5L401 1967.5L387.6 1967.5Z"/>
<rect x="337" y="1932.9" width="64" height="3.6"/>
<rect x="366.65" y="1919.8" width="4.7" height="29.5"/>
<rect x="353" y="1917.45" width="32" height="4.7"/>
<rect x="353" y="1946.95" width="32" height="4.7"/>
</g>
<!-- e2 TNF-a serum -->
<g>
<text transform="translate(709.5 1751.2)" font-size="31.5" text-anchor="middle">Serum</text>
<text transform="translate(472.1 2046.72) rotate(-90)" font-size="27.2">TNF-</text>
<text transform="translate(472.1 1866.14) rotate(-90)" font-size="27.2" text-anchor="end">(pg/ml)</text>
<text transform="translate(472.1 1982.67) scale(0.94 1.19) rotate(-90)" font-size="28" font-weight="normal" style="font-family:'Liberation Serif','DejaVu Serif',serif;font-weight:normal">α</text>
<rect x="563.4" y="1789.5" width="4.6" height="335.7"/>
<rect x="555.2" y="2120.6" width="302.5" height="4.6"/>
<rect x="555.2" y="1789.5" width="10.5" height="4.6"/>
<text transform="translate(545.2 1801.22)" font-size="25" text-anchor="end">600</text>
<rect x="555.2" y="1899.87" width="10.5" height="4.6"/>
<text transform="translate(545.2 1911.59)" font-size="25" text-anchor="end">400</text>
<rect x="555.2" y="2010.23" width="10.5" height="4.6"/>
<text transform="translate(545.2 2021.96)" font-size="25" text-anchor="end">200</text>
<rect x="555.2" y="2120.6" width="10.5" height="4.6"/>
<text transform="translate(545.2 2132.32)" font-size="25" text-anchor="end">0</text>
<rect x="610.9" y="2122.9" width="4.6" height="9.8"/>
<rect x="707.9" y="2122.9" width="4.6" height="9.8"/>
<rect x="804.6" y="2122.9" width="4.6" height="9.8"/>
<rect x="708.2" y="1839.8" width="106.8" height="5"/>
<text transform="translate(764.4 1832.3)" font-size="38" text-anchor="middle">ns</text>
<text transform="translate(623.2 2153.7) rotate(-45)" font-size="25" text-anchor="end">CON</text>
<text transform="translate(720.2 2153.7) rotate(-45)" font-size="25" text-anchor="end">LPS + PBS</text>
<text transform="translate(816.9 2153.7) rotate(-45)" font-size="25" text-anchor="end">LPS + ADP</text>
<rect x="588.1" y="2107.8" width="51.7" height="5"/>
<circle cx="588.1" cy="2110.3" r="6.5"/>
<circle cx="639.8" cy="2110.3" r="6.5"/>
<rect x="703.6" y="1855" width="13.2" height="13.2"/>
<rect x="677.9" y="1888" width="13.2" height="13.2"/>
<rect x="703.6" y="1889.9" width="13.2" height="13.2"/>
<rect x="677.9" y="1993.9" width="13.2" height="13.2"/>
<rect x="728.7" y="1986.4" width="13.2" height="13.2"/>
<rect x="678.2" y="1927.4" width="64" height="3.6"/>
<rect x="707.85" y="1901.3" width="4.7" height="56.2"/>
<rect x="694.2" y="1898.95" width="32" height="4.7"/>
<rect x="694.2" y="1955.15" width="32" height="4.7"/>
<path d="M781.4 1866.9L788.1 1879.9L774.7 1879.9Z"/>
<path d="M806 1866.3L812.7 1879.3L799.3 1879.3Z"/>
<path d="M832.6 1879.4L839.3 1892.4L825.9 1892.4Z"/>
<path d="M806 1881.7L812.7 1894.7L799.3 1894.7Z"/>
<path d="M806.9 1927.8L813.6 1940.8L800.2 1940.8Z"/>
<rect x="774.7" y="1887.8" width="64" height="3.6"/>
<rect x="804.35" y="1878.4" width="4.7" height="23.2"/>
<rect x="790.7" y="1876.05" width="32" height="4.7"/>
<rect x="790.7" y="1899.25" width="32" height="4.7"/>
</g>
<!-- e3 IL-6 serum -->
<g>
<text transform="translate(1161.8 1745.7)" font-size="31.5" text-anchor="middle">Serum</text>
<text transform="translate(914.1 1951.3) rotate(-90)" font-size="27.2" text-anchor="middle">IL-6 (pg/ml)</text>
<rect x="1014.6" y="1783.9" width="4.6" height="336.2"/>
<rect x="1006.4" y="2115.5" width="303" height="4.6"/>
<rect x="1006.4" y="1783.9" width="10.5" height="4.6"/>
<text transform="translate(996.4 1795.62)" font-size="25" text-anchor="end">5000</text>
<rect x="1006.4" y="1850.22" width="10.5" height="4.6"/>
<text transform="translate(996.4 1861.94)" font-size="25" text-anchor="end">4000</text>
<rect x="1006.4" y="1916.54" width="10.5" height="4.6"/>
<text transform="translate(996.4 1928.27)" font-size="25" text-anchor="end">3000</text>
<rect x="1006.4" y="1982.86" width="10.5" height="4.6"/>
<text transform="translate(996.4 1994.59)" font-size="25" text-anchor="end">2000</text>
<rect x="1006.4" y="2049.18" width="10.5" height="4.6"/>
<text transform="translate(996.4 2060.9)" font-size="25" text-anchor="end"><tspan class="o" dx="0.044em">1</tspan>000</text>
<rect x="1006.4" y="2115.5" width="10.5" height="4.6"/>
<text transform="translate(996.4 2127.22)" font-size="25" text-anchor="end">0</text>
<rect x="1064.1" y="2117.8" width="4.6" height="9.8"/>
<rect x="1160.5" y="2117.8" width="4.6" height="9.8"/>
<rect x="1256.3" y="2117.8" width="4.6" height="9.8"/>
<rect x="1144" y="1816.4" width="118.2" height="5"/>
<text transform="translate(1205.2 1809.9)" font-size="38" text-anchor="middle">ns</text>
<text transform="translate(1076.4 2148.6) rotate(-45)" font-size="25" text-anchor="end">CON</text>
<text transform="translate(1172.8 2148.6) rotate(-45)" font-size="25" text-anchor="end">LPS + PBS</text>
<text transform="translate(1268.6 2148.6) rotate(-45)" font-size="25" text-anchor="end">LPS + ADP</text>
<rect x="1041.2" y="2104.6" width="50.6" height="5"/>
<circle cx="1041.2" cy="2107.1" r="6.5"/>
<circle cx="1091.8" cy="2107.1" r="6.5"/>
<rect x="1156.2" y="1933.3" width="13.2" height="13.2"/>
<rect x="1156.2" y="1945.8" width="13.2" height="13.2"/>
<rect x="1181.6" y="1922.1" width="13.2" height="13.2"/>
<rect x="1156.2" y="1989.1" width="13.2" height="13.2"/>
<rect x="1156.2" y="2050.6" width="13.2" height="13.2"/>
<rect x="1130.9" y="1973.5" width="64" height="3.6"/>
<rect x="1160.55" y="1951.6" width="4.7" height="46.9"/>
<rect x="1146.9" y="1949.25" width="32" height="4.7"/>
<rect x="1146.9" y="1996.15" width="32" height="4.7"/>
<path d="M1259.2 1828.6L1265.9 1841.6L1252.5 1841.6Z"/>
<path d="M1259.2 1859.3L1265.9 1872.3L1252.5 1872.3Z"/>
<path d="M1259.2 1958.5L1265.9 1971.5L1252.5 1971.5Z"/>
<path d="M1259.2 1981.7L1265.9 1994.7L1252.5 1994.7Z"/>
<path d="M1259.2 2001L1265.9 2014L1252.5 2014Z"/>
<rect x="1227" y="1929.1" width="64" height="3.6"/>
<rect x="1256.65" y="1897.1" width="4.7" height="67.9"/>
<rect x="1243" y="1894.75" width="32" height="4.7"/>
<rect x="1243" y="1962.65" width="32" height="4.7"/>
</g>
<!-- f survival -->
<g>
<rect x="1462.8" y="1794.2" width="6" height="327.6"/>
<rect x="1452.9" y="2116.55" width="450.3" height="5.5"/>
<rect x="1452.9" y="1794.2" width="12.9" height="5"/>
<text transform="translate(1443 1807)" font-size="29.5" text-anchor="end"><tspan class="o" dx="0.044em">1</tspan>00</text>
<rect x="1452.9" y="1858.72" width="12.9" height="5"/>
<text transform="translate(1443 1871.52)" font-size="29.5" text-anchor="end">80</text>
<rect x="1452.9" y="1923.24" width="12.9" height="5"/>
<text transform="translate(1443 1936.04)" font-size="29.5" text-anchor="end">60</text>
<rect x="1452.9" y="1987.76" width="12.9" height="5"/>
<text transform="translate(1443 2000.56)" font-size="29.5" text-anchor="end">40</text>
<rect x="1452.9" y="2052.28" width="12.9" height="5"/>
<text transform="translate(1443 2065.08)" font-size="29.5" text-anchor="end">20</text>
<rect x="1452.9" y="2116.8" width="12.9" height="5"/>
<text transform="translate(1443 2129.6)" font-size="29.5" text-anchor="end">0</text>
<rect x="1463.3" y="2119.3" width="5" height="13.9"/>
<text transform="translate(1465.8 2166.2)" font-size="29.5" text-anchor="middle">0</text>
<rect x="1517.65" y="2119.3" width="5" height="13.9"/>
<text transform="translate(1520.15 2166.2)" font-size="29.5" text-anchor="middle">6</text>
<rect x="1572" y="2119.3" width="5" height="13.9"/>
<text transform="translate(1574.5 2166.2)" font-size="29.5" text-anchor="middle"><tspan class="o" dx="0.044em">1</tspan>2</text>
<rect x="1626.35" y="2119.3" width="5" height="13.9"/>
<text transform="translate(1628.85 2166.2)" font-size="29.5" text-anchor="middle"><tspan class="o" dx="0.044em">1</tspan>8</text>
<rect x="1680.7" y="2119.3" width="5" height="13.9"/>
<text transform="translate(1683.2 2166.2)" font-size="29.5" text-anchor="middle">24</text>
<rect x="1735.05" y="2119.3" width="5" height="13.9"/>
<text transform="translate(1737.55 2166.2)" font-size="29.5" text-anchor="middle">30</text>
<rect x="1789.4" y="2119.3" width="5" height="13.9"/>
<text transform="translate(1791.9 2166.2)" font-size="29.5" text-anchor="middle">36</text>
<rect x="1843.75" y="2119.3" width="5" height="13.9"/>
<text transform="translate(1846.25 2166.2)" font-size="29.5" text-anchor="middle">42</text>
<rect x="1898.1" y="2119.3" width="5" height="13.9"/>
<text transform="translate(1900.6 2166.2)" font-size="29.5" text-anchor="middle">48</text>
<text transform="translate(1683 2212.1)" font-size="29.8" text-anchor="middle">Time after injection (h)</text>
<text transform="translate(1373.3 1955.7) rotate(-90)" font-size="32.5" text-anchor="middle">Survival (%)</text>
<text transform="translate(1706 1747.9)" font-size="33.5">LPS (<tspan font-style="italic">n</tspan> = 9)</text>
<text transform="translate(1705 1788.3)" font-size="33">LPS + ADP(<tspan font-style="italic">n</tspan> = 9)</text>
<path d="M1637 1735.8H1684" fill="none" stroke="#000" stroke-width="5.5" stroke-dasharray="17 8 4 8"/>
<path d="M1637.5 1776.5H1681.6" fill="none" stroke="#000" stroke-width="6"/>
<rect x="1658.75" y="1768" width="2.5" height="8.5"/>
<clipPath id="fclip"><rect x="1460" y="1795.2" width="460" height="340"/></clipPath>
<path d="M1465.8 1796.7L1583.56 1796.7L1583.56 1832.51L1610.73 1832.51L1610.73 1904.13L1628.85 1904.13L1628.85 1939.93L1656.02 1939.93L1656.02 1976.07L1683.2 1976.07L1683.2 2011.87L1900.6 2011.87" fill="none" stroke="#000" stroke-width="6" stroke-linejoin="miter" clip-path="url(#fclip)"/>
<rect x="1736.3" y="2003.87" width="2.5" height="8"/>
<rect x="1790.65" y="2003.87" width="2.5" height="8"/>
<rect x="1899.35" y="2003.87" width="2.5" height="8"/>
<path d="M1601.67 1796.7L1628.85 1796.7L1628.85 1832.51L1656.02 1832.51L1656.02 1868.32L1683.2 1868.32L1683.2 1904.13L1900.6 1904.13" fill="none" stroke="#000" stroke-width="6" stroke-dasharray="27 14" clip-path="url(#fclip)"/>
<rect x="1736.3" y="1896.13" width="2.5" height="8"/>
<rect x="1790.65" y="1896.13" width="2.5" height="8"/>
<rect x="1899.35" y="1896.13" width="2.5" height="8"/>
</g>
</svg>
</body>
</html>
